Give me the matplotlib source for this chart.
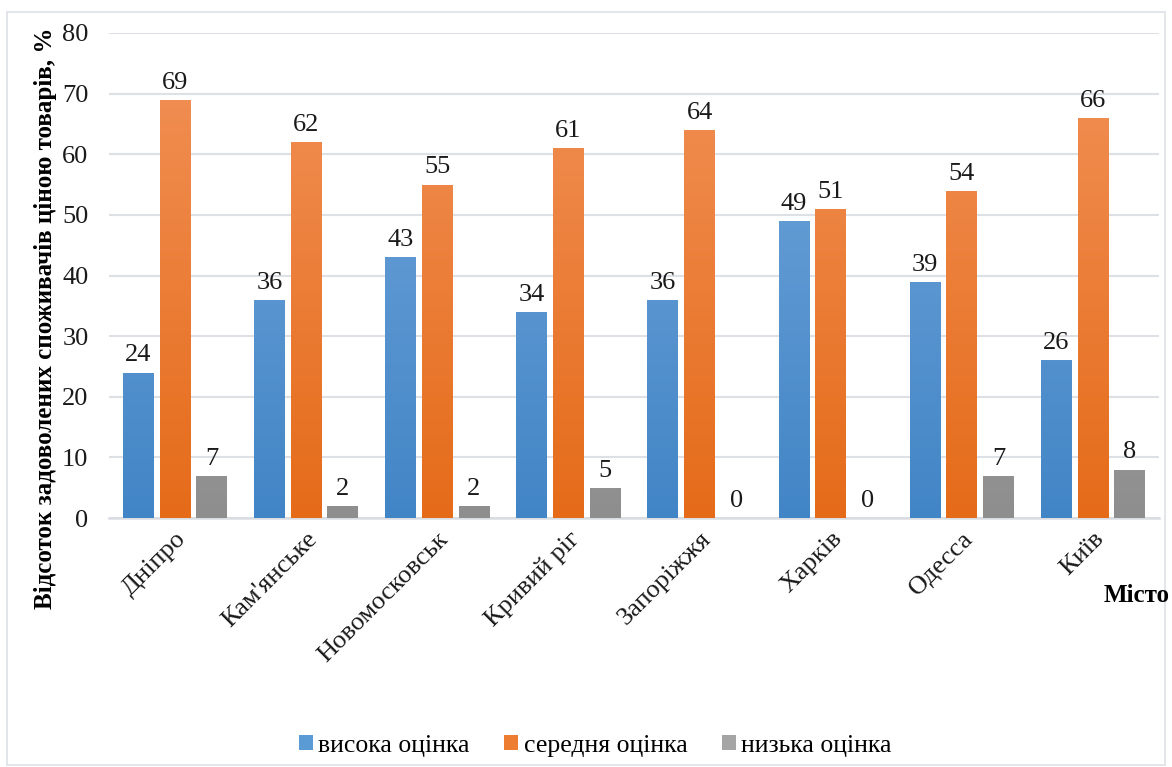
import numpy as np
import matplotlib.pyplot as plt
from matplotlib.colors import LinearSegmentedColormap
from matplotlib.patches import Patch, Rectangle

plt.rcParams['font.family'] = ['Liberation Serif', 'DejaVu Serif']

cities = ['Дніпро', "Кам'янське", 'Новомосковськ', 'Кривий ріг',
          'Запоріжжя', 'Харків', 'Одесса', 'Київ']
high = [24, 36, 43, 34, 36, 49, 39, 26]
medium = [69, 62, 55, 61, 64, 51, 54, 66]
low = [7, 2, 2, 5, 0, 0, 7, 8]
series_names = ['висока оцінка', 'середня оцінка', 'низька оцінка']

# (top colour, bottom colour) for the gradient fill of each series
gradients = [('#74a8dc', '#4285c6'),
             ('#f29259', '#e56b19'),
             ('#b4b4b4', '#8e8e8e')]
legend_colors = ['#5b9bd5', '#ed7d31', '#a5a5a5']

fig = plt.figure(figsize=(11.72, 7.67), dpi=100)
ax = fig.add_axes([0.0933, 0.3246, 0.8953, 0.6324])

x = np.arange(len(cities))
width = 0.235
offset = 0.28

for k, values in enumerate([high, medium, low]):
    cmap = LinearSegmentedColormap.from_list('g%d' % k, [gradients[k][1], gradients[k][0]])
    grad = np.linspace(0, 1, 256).reshape(-1, 1)
    bars = ax.bar(x + (k - 1) * offset, values, width, color='none', zorder=3)
    for bar, v in zip(bars, values):
        bx, bw = bar.get_x(), bar.get_width()
        if v > 0:
            img = ax.imshow(grad, cmap=cmap, origin='lower', aspect='auto',
                            extent=[bx, bx + bw, 0, 80], zorder=3)
            img.set_clip_path(bar)
        ax.text(bx + bw / 2, v + 1.0, str(v), ha='center', va='bottom',
                fontsize=19, color='#1a1a1a', zorder=4)

ax.set_xlim(-0.5, len(cities) - 0.5)
ax.set_ylim(0, 80)
ax.set_yticks(np.arange(0, 81, 10))
ax.grid(axis='y', color='#dde1e6', linewidth=1.5, zorder=0)
ax.set_axisbelow(True)
for side in ['top', 'right', 'left']:
    ax.spines[side].set_visible(False)
ax.spines['bottom'].set_color('#d9dde2')
ax.spines['bottom'].set_linewidth(1.8)
ax.tick_params(length=0, labelsize=19, colors='#1a1a1a')
ax.tick_params(axis='y', pad=15)
ax.tick_params(axis='x', pad=7)
ax.set_xticks(x)
ax.set_xticklabels(cities, rotation=45, ha='right', rotation_mode='anchor')

fig.text(0.039, 0.585, 'Відсоток задоволених споживачів ціною товарів, %',
         rotation=90, ha='center', va='center', fontsize=18, fontweight='bold')
fig.text(0.998, 0.224, 'Місто', ha='right', va='center', fontsize=18, fontweight='bold')

handles = [Patch(facecolor=c, edgecolor='none') for c in legend_colors]
fig.legend(handles, series_names, loc='center', bbox_to_anchor=(0.508, 0.028), ncol=3,
           frameon=False, fontsize=18.5, handlelength=0.55, handleheight=0.55,
           handletextpad=0.2, columnspacing=1.35)

fig.patches.append(Rectangle((0.006, 0.003), 0.988, 0.982, transform=fig.transFigure,
                             facecolor='none', edgecolor='#dde1e6', linewidth=1.2))

fig.savefig('out.png', dpi=100)
